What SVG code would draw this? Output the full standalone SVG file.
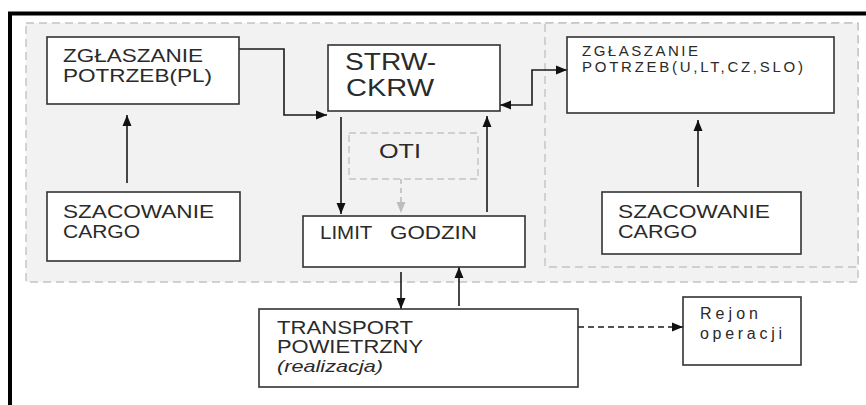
<svg xmlns="http://www.w3.org/2000/svg" width="866" height="405" viewBox="0 0 866 405">
<defs>
<style>
.box{fill:#fff;stroke:#333;stroke-width:1.6}
.dbox{fill:#f2f2f2;stroke:#c4c4c4;stroke-width:1.4;stroke-dasharray:8 5}
.t{font-family:"Liberation Sans",Arial,sans-serif;fill:#2a2a2a}
.c{fill:none;stroke:#1a1a1a;stroke-width:1.6}
.cg{fill:none;stroke:#bdbdbd;stroke-width:1.6;stroke-dasharray:5 4}
.cd{fill:none;stroke:#1a1a1a;stroke-width:1.6;stroke-dasharray:6 4}
</style>
<marker id="ah" markerUnits="userSpaceOnUse" markerWidth="12" markerHeight="10" refX="11" refY="5" orient="auto-start-reverse"><path d="M0,0.5 L11,5 L0,9.5 z" fill="#111"/></marker>
<marker id="ahg" markerUnits="userSpaceOnUse" markerWidth="12" markerHeight="10" refX="11" refY="5" orient="auto"><path d="M0,0.5 L11,5 L0,9.5 z" fill="#bdbdbd"/></marker>
</defs>
<rect width="866" height="405" fill="#fff"/>
<path d="M10,405 V13.5 H866" fill="none" stroke="#000" stroke-width="4"/>
<rect class="dbox" x="26" y="23" width="832" height="259"/>
<rect class="dbox" x="545" y="23" width="313" height="244"/>

<g id="connectors">
<polyline class="c" points="239,49 284,49 284,115 327,115" marker-end="url(#ah)"/>
<line class="c" x1="127" y1="183" x2="127" y2="115" marker-end="url(#ah)"/>
<line class="c" x1="341" y1="117" x2="341" y2="214" marker-end="url(#ah)"/>
<line class="c" x1="487" y1="212" x2="487" y2="116" marker-end="url(#ah)"/>
<line class="cg" x1="401" y1="179" x2="401" y2="213" marker-end="url(#ahg)"/>
<polyline class="c" points="500,105 532,105 532,70 567,70" marker-start="url(#ah)" marker-end="url(#ah)"/>
<line class="c" x1="698" y1="187" x2="698" y2="120" marker-end="url(#ah)"/>
<line class="c" x1="401" y1="272" x2="401" y2="309" marker-end="url(#ah)"/>
<line class="c" x1="459" y1="306" x2="459" y2="267" marker-end="url(#ah)"/>
<line class="cd" x1="578" y1="327" x2="683" y2="327" marker-end="url(#ah)"/>
</g>

<g id="zgl-pl">
<rect class="box" x="47" y="37" width="192" height="67"/>
<text class="t" font-size="18" x="63" y="62" textLength="140" lengthAdjust="spacingAndGlyphs">ZGŁASZANIE</text>
<text class="t" font-size="18" x="63" y="82" textLength="149" lengthAdjust="spacingAndGlyphs">POTRZEB(PL)</text>
</g>
<g id="strw">
<rect class="box" x="328" y="45" width="172" height="66"/>
<text class="t" font-size="23" x="345" y="70" textLength="91" lengthAdjust="spacingAndGlyphs">STRW-</text>
<text class="t" font-size="23" x="346" y="96" textLength="88" lengthAdjust="spacingAndGlyphs">CKRW</text>
</g>
<g id="zgl-other">
<rect class="box" x="567" y="37" width="267" height="76"/>
<text class="t" font-size="15" x="582" y="56" textLength="116" lengthAdjust="spacing">ZGŁASZANIE</text>
<text class="t" font-size="15" x="582" y="72" textLength="221" lengthAdjust="spacing">POTRZEB(U,LT,CZ,SLO)</text>
</g>
<g id="szac-left">
<rect class="box" x="47" y="192" width="193" height="69"/>
<text class="t" font-size="19" x="63" y="218" textLength="151" lengthAdjust="spacingAndGlyphs">SZACOWANIE</text>
<text class="t" font-size="19" x="63" y="238" textLength="77" lengthAdjust="spacingAndGlyphs">CARGO</text>
</g>
<g id="oti">
<rect x="349" y="133" width="129" height="46" fill="#f2f2f2" stroke="#c4c4c4" stroke-width="1.4" stroke-dasharray="7 4"/>
<text class="t" font-size="21" x="379" y="158" textLength="42" lengthAdjust="spacingAndGlyphs">OTI</text>
</g>
<g id="limit">
<rect class="box" x="303" y="216" width="222" height="51"/>
<text class="t" font-size="19" y="239"><tspan x="320" textLength="52" lengthAdjust="spacingAndGlyphs">LIMIT</tspan> <tspan x="390" textLength="87" lengthAdjust="spacingAndGlyphs">GODZIN</tspan></text>
</g>
<g id="szac-right">
<rect class="box" x="602" y="192" width="199" height="62"/>
<text class="t" font-size="19" x="618" y="218" textLength="152" lengthAdjust="spacingAndGlyphs">SZACOWANIE</text>
<text class="t" font-size="19" x="618" y="238" textLength="79" lengthAdjust="spacingAndGlyphs">CARGO</text>
</g>
<g id="transport">
<rect class="box" x="259" y="309" width="319" height="78"/>
<text class="t" font-size="19" x="277" y="334" textLength="136" lengthAdjust="spacingAndGlyphs">TRANSPORT</text>
<text class="t" font-size="19" x="277" y="353" textLength="146" lengthAdjust="spacingAndGlyphs">POWIETRZNY</text>
<text class="t" font-size="17" font-style="italic" x="277" y="372" textLength="106" lengthAdjust="spacingAndGlyphs">(realizacja)</text>
</g>
<g id="rejon">
<rect class="box" x="683" y="297" width="118" height="68"/>
<text class="t" font-size="16" x="700" y="319" textLength="58" lengthAdjust="spacing">Rejon</text>
<text class="t" font-size="16" x="700" y="339" textLength="82" lengthAdjust="spacing">operacji</text>
</g>
</svg>
